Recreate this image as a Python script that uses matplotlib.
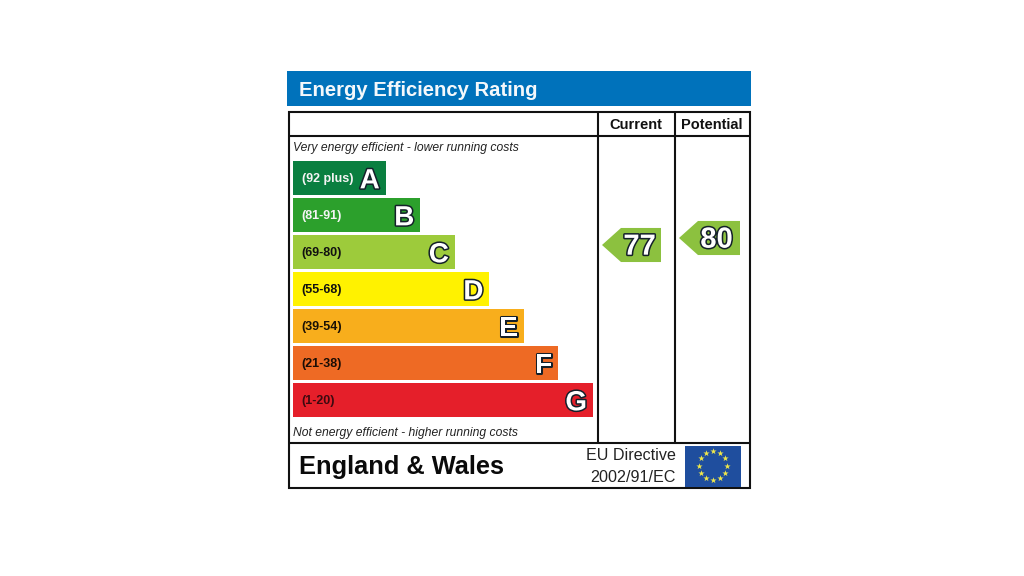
import math
import matplotlib
matplotlib.use("Agg")
import matplotlib.pyplot as plt
import matplotlib.patheffects as pe
from matplotlib.patches import Rectangle, Polygon

bands = ["A", "B", "C", "D", "E", "F", "G"]
ranges = ["(92 plus)", "(81-91)", "(69-80)", "(55-68)", "(39-54)", "(21-38)", "(1-20)"]
lengths = [31, 42.5, 54, 65.5, 77, 88.5, 100]
band_colors = ["#0a7f40", "#2ca02c", "#9dcb3b", "#fff200", "#f8ae1c", "#ee6a24", "#e51f2a"]
range_colors = ["#f4f4f4", "#f4f4f4", "#111111", "#111111", "#1a1005", "#1a0d05", "#3d0a10"]
current_rating = 77
potential_rating = 80

W, H = 1024, 576
plt.rcParams["font.family"] = ["Liberation Sans", "DejaVu Sans"]
fig = plt.figure(figsize=(W / 100, H / 100), dpi=100, facecolor="white")


def px_axes(x0, y0, x1, y1):
    a = fig.add_axes([x0 / W, 1 - y1 / H, (x1 - x0) / W, (y1 - y0) / H])
    a.axis("off")
    a.patch.set_alpha(0)
    return a


# pixel-space frame
bg = px_axes(0, 0, W, H)
bg.set_xlim(0, W)
bg.set_ylim(H, 0)
bg.add_patch(Rectangle((287, 71), 464, 35, fc="#0072bb", ec="none"))
bg.text(299, 90.5, "Energy Efficiency Rating", color="#f4f8fb", fontsize=14.6, fontweight="bold", va="center", ha="left")
lw = 1.5
ink = "#111111"
bg.add_patch(Rectangle((288.5, 112), 461, 376, fc="none", ec=ink, lw=lw))
bg.plot([289, 749], [135.5, 135.5], color=ink, lw=lw, solid_capstyle="butt")
bg.plot([289, 749], [443, 443], color=ink, lw=lw, solid_capstyle="butt")
bg.plot([597.5, 597.5], [112, 443], color=ink, lw=lw, solid_capstyle="butt")
bg.plot([675, 675], [112, 443], color=ink, lw=lw, solid_capstyle="butt")
bg.text(636, 125, "Current", fontsize=10.5, fontweight="bold", ha="center", va="center", color="#111111")
bg.text(712, 125, "Potential", fontsize=10.5, fontweight="bold", ha="center", va="center", color="#111111")
bg.text(293, 148, "Very energy efficient - lower running costs", fontsize=8.75, style="italic", va="center", color="#222222")
bg.text(293, 433, "Not energy efficient - higher running costs", fontsize=8.75, style="italic", va="center", color="#222222")
bg.text(299, 467, "England & Wales", fontsize=18.3, fontweight="bold", va="center", color="#0a0a0a")
bg.text(676, 456, "EU Directive", fontsize=11.6, ha="right", va="center", color="#222222")
bg.text(676, 477, "2002/91/EC", fontsize=11.6, ha="right", va="center", color="#222222")

# EU flag
bg.add_patch(Rectangle((685, 445.5), 56, 41, fc="#1f4e9e", ec="none"))
flag_star_angles = [i * 30 for i in range(12)]
sx = [713 + 14 * math.cos(math.radians(t)) for t in flag_star_angles]
sy = [465.5 + 14.5 * math.sin(math.radians(t)) for t in flag_star_angles]
bg.scatter(sx, sy, marker="*", s=22, color="#f0e84a", linewidths=0)

# bands
ax = px_axes(292.5, 159.5, 593, 418.5)
ax.set_xlim(0, 100)
ax.set_ylim(6.5, -0.5)
ax.barh(range(len(bands)), lengths, height=0.92, color=band_colors, linewidth=0)
outline = [pe.Stroke(linewidth=2.2, foreground="#14202a"), pe.Normal()]
for i, (b, r, l) in enumerate(zip(bands, ranges, lengths)):
    ax.annotate(r, (0, i), xytext=(6.6, -1), textcoords="offset points", fontsize=9, fontweight="bold",
                color=range_colors[i], va="center", ha="left")
    ax.annotate(b, (l, i), xytext=(-4.3, -2.4), textcoords="offset points", fontsize=20, fontweight="bold",
                color="white", va="center", ha="right", path_effects=outline)

# rating pointers (vertical position comes from the rating)
pa = px_axes(597, 112, 750, 443)
pa.set_xlim(597, 750)
pa.set_ylim(-7.86, 134)
half = 7.3


def pointer(score, x_tip, x_sh, x_end, tx):
    pa.add_patch(Polygon([(x_tip, score), (x_sh, score + half), (x_end, score + half),
                          (x_end, score - half), (x_sh, score - half)], closed=True, fc="#8cc13f", ec="none"))
    pa.annotate(str(score), (tx, score), xytext=(0, -1.2), textcoords="offset points", fontsize=21,
                fontweight="bold", color="white", ha="center", va="center",
                path_effects=[pe.Stroke(linewidth=2.2, foreground="#14202a"), pe.Normal()])


pointer(current_rating, 602, 621, 661, 639.5)
pointer(potential_rating, 679, 698, 740, 716.5)

fig.savefig("out.png", dpi=100, facecolor="white")
